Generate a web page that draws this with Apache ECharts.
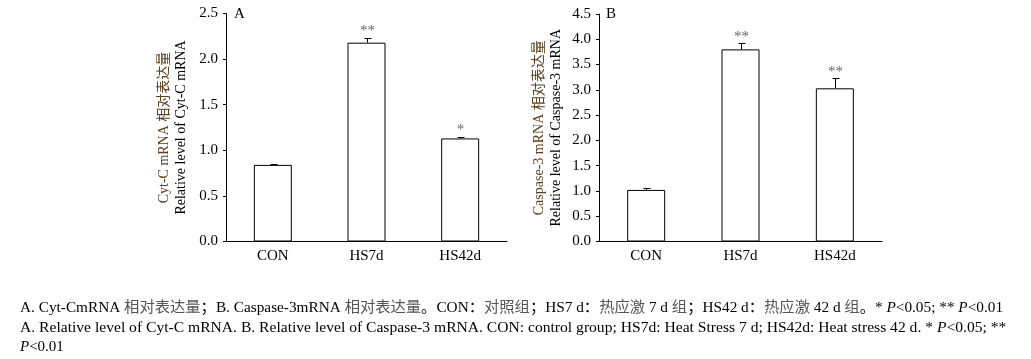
<!DOCTYPE html>
<html><head><meta charset="utf-8">
<script src="https://cdn.jsdelivr.net/npm/echarts@6/dist/echarts.min.js"></script>
<style>html,body{margin:0;padding:0;background:#fff}#c{width:1031px;height:359px}</style>
</head><body><div id="c"></div>
<script>
var categories = ['CON', 'HS7d', 'HS42d'];
var cytcValues = [0.84, 2.18, 1.13];
var cytcErrors = [0.01, 0.055, 0.02];
var cytcSig = ['', '**', '*'];
var caspValues = [1.02, 3.80, 3.03];
var caspErrors = [0.035, 0.12, 0.20];
var caspSig = ['', '**', '**'];
var cytcTicks = [0, 0.5, 1.0, 1.5, 2.0, 2.5];
var caspTicks = [0, 0.5, 1.0, 1.5, 2.0, 2.5, 3.0, 3.5, 4.0, 4.5];

var FONT = '"Liberation Serif", "Times New Roman", "Noto Sans CJK SC", serif';
var chart = echarts.init(document.getElementById('c'), null, {renderer: 'canvas'});

function errSeries(idx, vals, errs, sig) {
  return {
    type: 'custom', xAxisIndex: idx, yAxisIndex: idx, z: 5,
    data: vals.map(function (v, i) { return [i, v, errs[i]]; }),
    renderItem: function (params, api) {
      var i = api.value(0), v = api.value(1), e = api.value(2);
      var s = sig[params.dataIndex];
      var p0 = api.coord([i, v]);
      var p1 = api.coord([i, v + e]);
      var x = Math.round(p0[0]) + 0.5;
      var yt = Math.round(p1[1]) + 0.5;
      var children = [
        {type: 'line', shape: {x1: x, y1: p0[1], x2: x, y2: yt}, style: {stroke: '#000', lineWidth: 1}},
        {type: 'line', shape: {x1: x - 3, y1: yt, x2: x + 4, y2: yt}, style: {stroke: '#000', lineWidth: 1}}
      ];
      if (s) {
        children.push({type: 'text', x: x, y: p1[1] + 1, style: {text: s, fill: '#666', font: '15px ' + FONT, align: 'center', verticalAlign: 'bottom'}});
      }
      return {type: 'group', children: children};
    }
  };
}

function yAxisDef(idx, ticks, nameLines, gap) {
  return {
    type: 'value', gridIndex: idx, min: ticks[0], max: ticks[ticks.length - 1], interval: 0.5,
    axisLine: {show: true, lineStyle: {color: '#000', width: 1}},
    axisTick: {show: true, length: 3, lineStyle: {color: '#000'}},
    splitLine: {show: false},
    axisLabel: {color: '#000', fontFamily: FONT, fontSize: 15, margin: 8, formatter: function (v) { return v.toFixed(1); }},
    name: nameLines, nameLocation: 'middle', nameGap: gap,
    nameTextStyle: {fontFamily: FONT, fontSize: 14, lineHeight: 17, color: '#000',
      rich: {cn: {fontFamily: FONT, fontSize: 14, lineHeight: 17, color: '#5c3d1e'}, en: {fontFamily: FONT, fontSize: 14, lineHeight: 17, color: '#000'}}}
  };
}

function xAxisDef(idx) {
  return {
    type: 'category', gridIndex: idx, data: categories,
    axisLine: {show: true, lineStyle: {color: '#000', width: 1}},
    axisTick: {show: false},
    axisLabel: {color: '#000', fontFamily: FONT, fontSize: 15, margin: 7}
  };
}

var option = {
  backgroundColor: '#fff',
  animation: false,
  grid: [
    {left: 226, right: 524, top: 13.5, bottom: 117.5},
    {left: 599, right: 149, top: 14, bottom: 117.5}
  ],
  xAxis: [xAxisDef(0), xAxisDef(1)],
  yAxis: [
    yAxisDef(0, cytcTicks, '{cn|Cyt-C mRNA 相对表达量}\n{en|Relative level of Cyt-C mRNA}', 36.5),
    yAxisDef(1, caspTicks, '{cn|Caspase-3 mRNA 相对表达量}\n{en|Relative level of Caspase-3 mRNA}', 34.5)
  ],
  series: [
    {type: 'bar', xAxisIndex: 0, yAxisIndex: 0, data: cytcValues, barWidth: 38,
      itemStyle: {color: '#fff', borderColor: '#000', borderWidth: 1}},
    errSeries(0, cytcValues, cytcErrors, cytcSig),
    {type: 'bar', xAxisIndex: 1, yAxisIndex: 1, data: caspValues, barWidth: 38,
      itemStyle: {color: '#fff', borderColor: '#000', borderWidth: 1}},
    errSeries(1, caspValues, caspErrors, caspSig)
  ],
  graphic: [
    {type: 'text', left: 234, top: 7, style: {text: 'A', font: '15px ' + FONT, fill: '#000'}},
    {type: 'text', left: 606, top: 7, style: {text: 'B', font: '15px ' + FONT, fill: '#000'}},
    {type: 'text', left: 20, top: 300.5, style: {
      text: 'A. Cyt-CmRNA {cn|相对表达量}；B. Caspase-3mRNA {cn|相对表达量}。CON：{cn|对照组}；HS7 d：{cn|热应激} 7 d {cn|组}；HS42 d：{cn|热应激} 42 d {cn|组}。* {i|P}<0.05; ** {i|P}<0.01',
      font: '15.3px ' + FONT, fill: '#000',
      rich: {cn: {font: '15.3px ' + FONT, fill: '#555'}, i: {font: 'italic 15.3px ' + FONT, fill: '#000'}}
    }},
    {type: 'text', left: 20, top: 320.5, style: {
      text: 'A. Relative level of Cyt-C mRNA. B. Relative level of Caspase-3 mRNA. CON: control group; HS7d: Heat Stress 7 d; HS42d: Heat stress 42 d. * {i|P}<0.05; **',
      font: '15.6px ' + FONT, fill: '#000',
      rich: {i: {font: 'italic 15.6px ' + FONT, fill: '#000'}}
    }},
    {type: 'text', left: 20, top: 339.5, style: {
      text: '{i|P}<0.01', font: '15px ' + FONT, fill: '#000',
      rich: {i: {font: 'italic 15px ' + FONT, fill: '#000'}}
    }}
  ]
};
chart.setOption(option);
</script>
</body></html>
